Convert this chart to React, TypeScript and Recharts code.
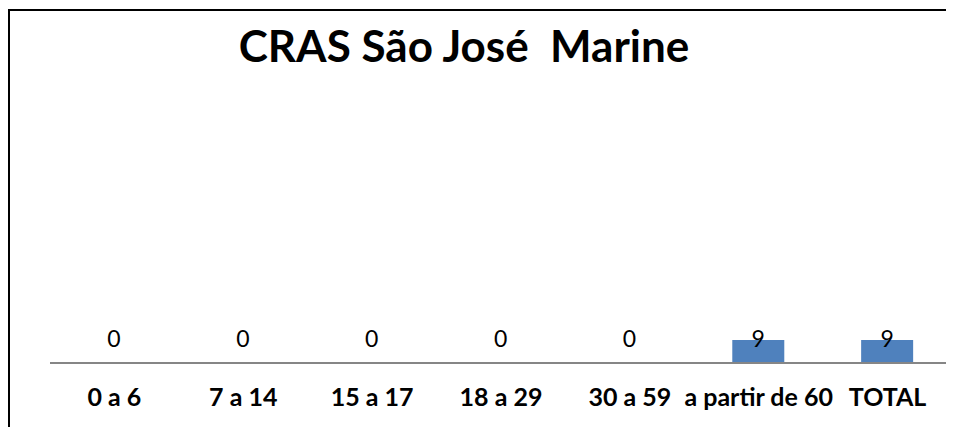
import React from 'react';
import { BarChart, Bar, XAxis, YAxis, LabelList } from 'recharts';

const categories = ['0 a 6', '7 a 14', '15 a 17', '18 a 29', '30 a 59', 'a partir de 60', 'TOTAL'];
const values = [0, 0, 0, 0, 0, 9, 9];
const title = 'CRAS São José  Marine';

const data = categories.map((c, i) => ({ category: c, value: values[i] }));

const ValueLabel = (props: any) => {
  const vb = props.viewBox || {};
  const x = Number(props.x ?? vb.x);
  const y = Number(props.y ?? vb.y);
  const w = Number(props.width ?? vb.width);
  const h = Number(props.height ?? vb.height);
  const base = y + h;
  return (
    <text x={x + w / 2} y={base - 16} textAnchor="middle" fontSize={23} fontFamily="Lato" fill="#000">
      {String(props.value)}
    </text>
  );
};

export default function App() {
  return (
    <div style={{ position: 'relative', width: 946, height: 419, background: '#fff' }}>
      <style>{'html,body{overflow:hidden;}'}</style>
      <BarChart width={946} height={419} data={data} margin={{ top: 100, right: 2, bottom: 0, left: 42 }}>
        <XAxis
          dataKey="category"
          height={64}
          interval={0}
          tickLine={false}
          tickSize={0}
          tickMargin={25}
          axisLine={{ stroke: '#868686', strokeWidth: 2 }}
          tick={{ fill: '#000', fontSize: 25, fontWeight: 700, fontFamily: 'Lato' }}
        />
        <YAxis hide domain={[0, 100]} />
        <Bar dataKey="value" fill="#4F81BD" barSize={52} minPointSize={0.01} isAnimationActive={false}>
          <LabelList dataKey="value" content={ValueLabel} />
        </Bar>
      </BarChart>
      <div
        style={{
          position: 'absolute',
          top: 11,
          left: 0,
          width: 912,
          textAlign: 'center',
          fontFamily: 'Lato',
          fontWeight: 700,
          fontSize: 44,
          whiteSpace: 'pre',
          color: '#000',
        }}
      >
        {title}
      </div>
      <div
        style={{
          position: 'absolute',
          top: 1,
          left: 0,
          width: 960,
          height: 440,
          borderTop: '2px solid #000',
          borderLeft: '2px solid #000',
          pointerEvents: 'none',
        }}
      />
    </div>
  );
}
